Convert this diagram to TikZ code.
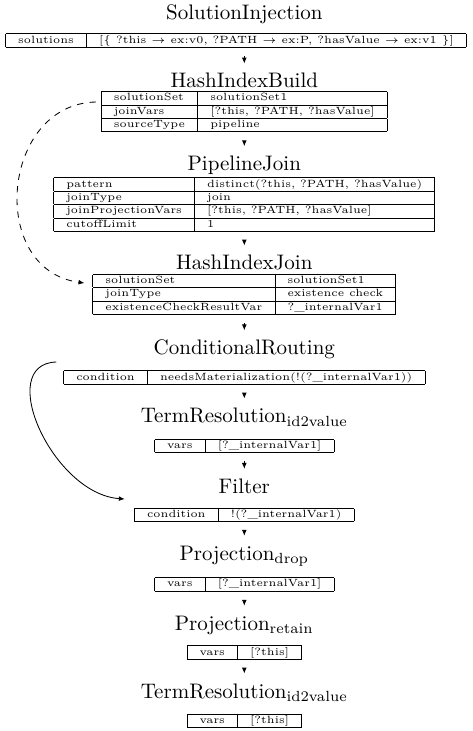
\documentclass[tikz,border=0pt]{standalone}
\usetikzlibrary{arrows.meta,calc}
\begin{document}
\begin{tikzpicture}[x=0.476pt,y=-0.476pt,
  optitle/.style={anchor=base,inner sep=0pt,font=\normalsize},
  params/.style={anchor=north,inner sep=0pt,font=\tiny},
  tip/.style={-{Latex[length=2.8pt,width=2.3pt]}},
  flow/.style={tip,line width=0.4pt,shorten <=3.8pt,shorten >=4.5pt},
  link/.style={tip,line width=0.4pt}]
\useasboundingbox (0,0) rectangle (472,731);

% operator titles
\node[optitle] (t1)  at (244.3,20)    {SolutionInjection};
\node[optitle] (t2)  at (244.3,88)    {HashIndexBuild};
\node[optitle] (t3)  at (244.3,170.7) {PipelineJoin};
\node[optitle] (t4)  at (244.3,270)   {HashIndexJoin};
\node[optitle] (t5)  at (244.3,355)   {ConditionalRouting};
\node[optitle] (t6)  at (244.3,423)   {TermResolution\textsubscript{id2value}};
\node[optitle] (t7)  at (244.3,493.3) {Filter};
\node[optitle] (t8)  at (244.3,560)   {Projection\textsubscript{drop}};
\node[optitle] (t9)  at (244.3,630)   {Projection\textsubscript{retain}};
\node[optitle] (t10) at (244.3,698)   {TermResolution\textsubscript{id2value}};

% parameter tables
\node[params] (k1) at (236,33) {\begin{tabular}{|c|c|}\hline
solutions & [\{ ?this $\rightarrow$ ex:v0, ?PATH $\rightarrow$ ex:P, ?hasValue $\rightarrow$ ex:v1 \}]\\\hline
\end{tabular}};
\node[params] (k2) at (244.3,90.7) {\begin{tabular}{|l|l|}\hline
solutionSet & solutionSet1\\\hline
joinVars & [?this, ?PATH, ?hasValue]\\\hline
sourceType & pipeline\\\hline
\end{tabular}};
\node[params] (k3) at (244.3,177) {\begin{tabular}{|l|l|}\hline
pattern & distinct(?this, ?PATH, ?hasValue)\\\hline
joinType & join\\\hline
joinProjectionVars & [?this, ?PATH, ?hasValue]\\\hline
cutoffLimit & 1\\\hline
\end{tabular}};
\node[params] (k4) at (244.3,273.3) {\begin{tabular}{|l|l|}\hline
solutionSet & solutionSet1\\\hline
joinType & existence check\\\hline
existenceCheckResultVar & ?\_internalVar1\\\hline
\end{tabular}};
\node[params] (k5) at (244.3,370) {\begin{tabular}{|c|c|}\hline
condition & needsMaterialization(!(?\_internalVar1))\\\hline
\end{tabular}};
\node[params] (k6) at (244.3,438.3) {\begin{tabular}{|c|c|}\hline
vars & [?\_internalVar1]\\\hline
\end{tabular}};
\node[params] (k7) at (244.3,507.3) {\begin{tabular}{|c|c|}\hline
condition & !(?\_internalVar1)\\\hline
\end{tabular}};
\node[params] (k8) at (244.3,576.7) {\begin{tabular}{|c|c|}\hline
vars & [?\_internalVar1]\\\hline
\end{tabular}};
\node[params] (k9) at (244.3,645) {\begin{tabular}{|c|c|}\hline
vars & [?this]\\\hline
\end{tabular}};
\node[params] (k10) at (244.3,713.3) {\begin{tabular}{|c|c|}\hline
vars & [?this]\\\hline
\end{tabular}};

% pipeline flow
\draw[flow] (k1.south -| t2.north) -- (t2.north);
\draw[flow] (k2.south) -- (t3.north);
\draw[flow] (k3.south) -- (t4.north);
\draw[flow] (k4.south) -- (t5.north);
\draw[flow] (k5.south) -- (t6.north);
\draw[flow] (k6.south) -- (t7.north);
\draw[flow] (k7.south) -- (t8.north);
\draw[flow] (k8.south) -- (t9.north);
\draw[flow] (k9.south) -- (t10.north);

% hash index reuse (build -> join)
\coordinate (d0) at ($(k2.north west)+(-5,11.3)$);
\coordinate (d1) at ($(k4.north west)+(-8,9.7)$);
\draw[link,dashed] (d0) .. controls ($(d0)+(-95,2)$) and ($(d1)+(-97,-13)$) .. (d1);

% routing bypass (conditional -> filter)
\coordinate (r0) at ($(k5.north west)+(-7,-8)$);
\coordinate (r1) at ($(k7.north west)+(-9.3,-8.3)$);
\draw[link] (r0) .. controls ($(r0)+(-62,2)$) and ($(r1)+(-72,-5)$) .. (r1);
\end{tikzpicture}
\end{document}
